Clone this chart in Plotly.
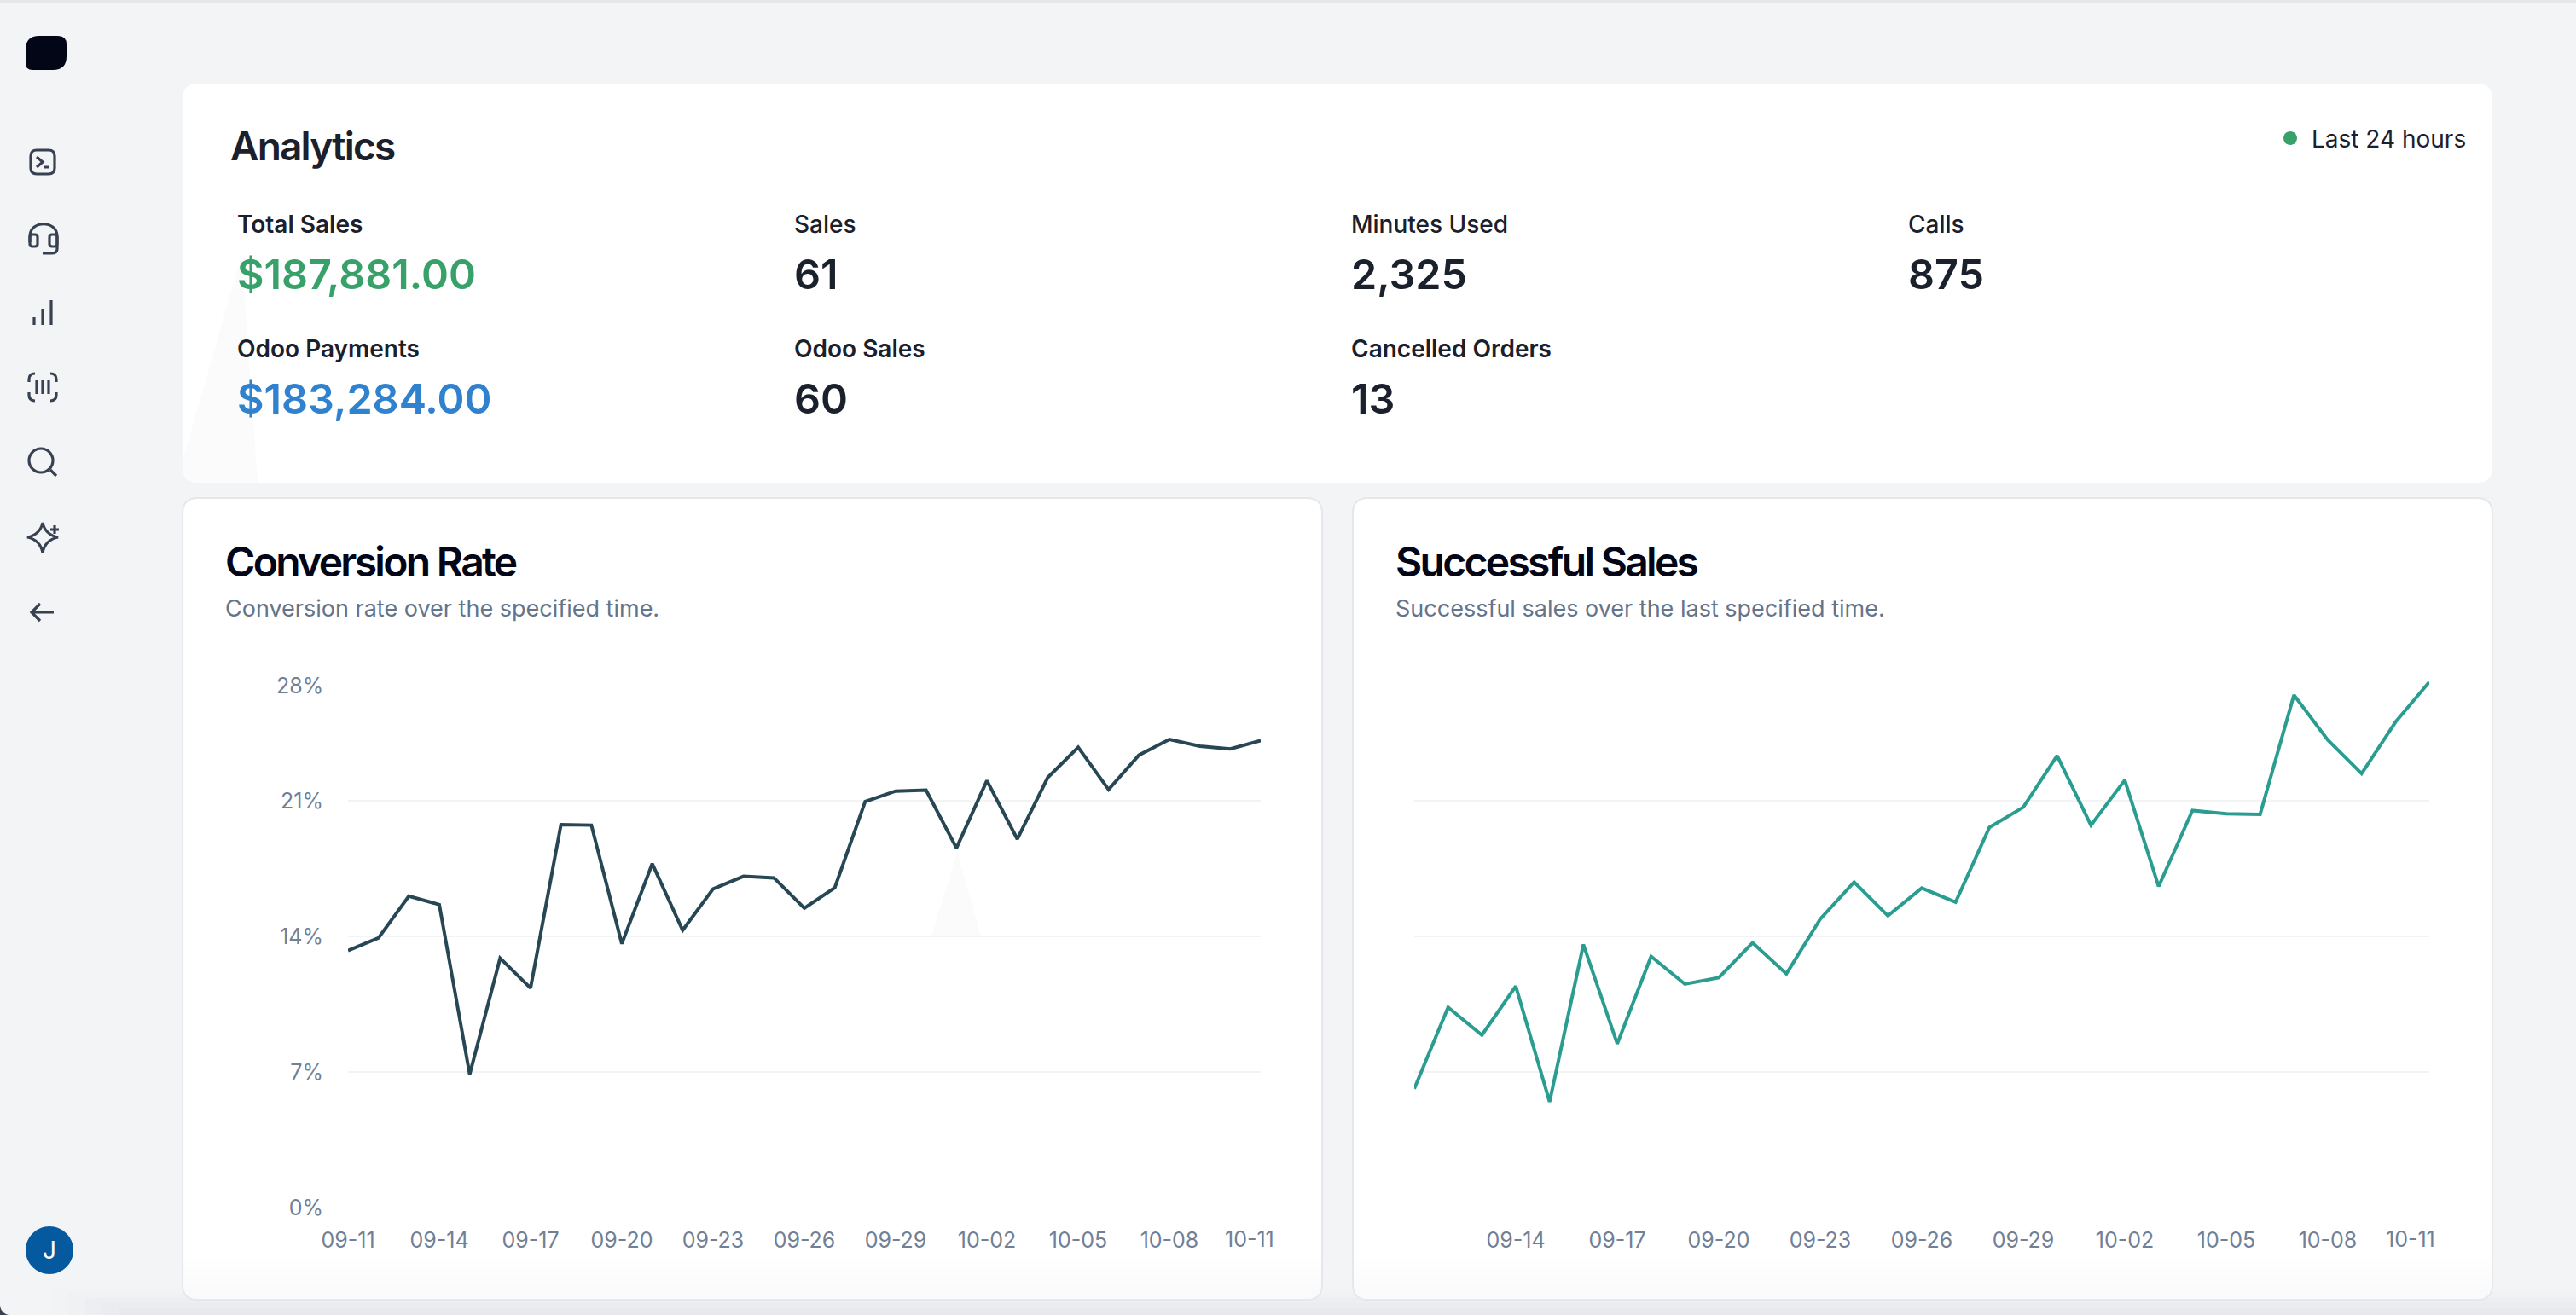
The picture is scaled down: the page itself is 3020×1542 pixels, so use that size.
import plotly.graph_objects as go

W, H = 3020, 1542

# ---- data ----
dates = ["09-11","09-12","09-13","09-14","09-15","09-16","09-17","09-18","09-19","09-20",
         "09-21","09-22","09-23","09-24","09-25","09-26","09-27","09-28","09-29","09-30",
         "10-01","10-02","10-03","10-04","10-05","10-06","10-07","10-08","10-09","10-10","10-11"]
conversion_rate = [13.27,13.92,16.08,15.64,6.88,12.87,11.33,19.77,19.74,13.62,17.75,14.32,16.45,17.1,17.02,
                   15.46,16.51,20.96,21.5,21.55,18.56,22.04,19.02,22.2,23.76,21.58,23.36,24.17,23.82,23.68,24.11]
successful_sales = [21.9,36.9,31.8,40.8,19.5,48.5,30.2,46.3,41.2,42.4,48.8,43.1,53.2,60.0,53.8,
                    58.9,56.3,70.1,73.8,83.3,70.5,78.8,59.2,73.2,72.6,72.5,94.5,86.2,80.0,89.5,96.9]
left_ticks = ["09-11","09-14","09-17","09-20","09-23","09-26","09-29","10-02","10-05","10-08"]
right_ticks = ["09-14","09-17","09-20","09-23","09-26","09-29","10-02","10-05","10-08"]
pct_labels = ["0%", "7%", "14%", "21%"]
stats = [
    ("Total Sales", "$187,881.00", "#38A169", 278, 263, 321),
    ("Sales", "61", "#1A202C", 931, 263, 321),
    ("Minutes Used", "2,325", "#1A202C", 1584, 263, 321),
    ("Calls", "875", "#1A202C", 2237, 263, 321),
    ("Odoo Payments", "$183,284.00", "#3182CE", 278, 409, 467),
    ("Odoo Sales", "60", "#1A202C", 931, 409, 467),
    ("Cancelled Orders", "13", "#1A202C", 1584, 409, 467),
]

FONT = "Inter"
TICK = "#718096"
GRID = "#F1F3F5"
ICON = "#374151"


def rrect(x0, y0, x1, y1, r):
    return (f"M{x0+r},{y0} L{x1-r},{y0} Q{x1},{y0} {x1},{y0+r} L{x1},{y1-r} Q{x1},{y1} {x1-r},{y1} "
            f"L{x0+r},{y1} Q{x0},{y1} {x0},{y1-r} L{x0},{y0+r} Q{x0},{y0} {x0+r},{y0} Z")


def circle(cx, cy, r):
    k = 0.5523 * r
    return (f"M{cx-r},{cy} C{cx-r},{cy-k} {cx-k},{cy-r} {cx},{cy-r} C{cx+k},{cy-r} {cx+r},{cy-k} {cx+r},{cy} "
            f"C{cx+r},{cy+k} {cx+k},{cy+r} {cx},{cy+r} C{cx-k},{cy+r} {cx-r},{cy+k} {cx-r},{cy} Z")


def pshape(path, fill=None, line=None, width=0, **kw):
    d = dict(type="path", path=path, xref="x", yref="y", layer="below",
             line=dict(color=line or "rgba(0,0,0,0)", width=width))
    if fill:
        d["fillcolor"] = fill
    d.update(kw)
    return d


shapes = []
# window edge and the soft darkening along the foot of the page
shapes.append(pshape(f"M0,0 L{W},0 L{W},3 L0,3 Z", fill="#E5E7EB"))
for i, c in enumerate(["#F2F3F5", "#F0F1F3", "#EDEEF1", "#EAECEF", "#E7E9EC"]):
    shapes.append(pshape(f"M{60+i*20},{1510+i*6} L{W},{1510+i*6} L{W},{H} L{60+i*20},{H} Z", fill=c))
shapes.append(pshape(f"M0,{H-10} Q2,{H-2} 10,{H} L0,{H} Z", fill="#374151"))

# cards
shapes.append(pshape(rrect(214, 98, 2922, 566, 18), fill="#FFFFFF"))
for x0, x1 in ((214, 1550), (1586, 2922)):
    shapes.append(pshape(rrect(x0, 584, x1, 1524, 18), fill="#FFFFFF", line="#E5E7EB", width=2))
    # soft fade at the card foot
    for i, c in enumerate(["#FEFEFE", "#FDFDFE", "#FCFCFD", "#FBFBFC", "#F9FAFB"]):
        y0 = 1476 + i * 9
        y1 = 1523 if i == 4 else y0 + 9
        if i == 4:
            shapes.append(pshape(f"M{x0+1},{y0} L{x1-1},{y0} L{x1-1},{y1-17} Q{x1-1},{y1} {x1-18},{y1} L{x0+18},{y1} Q{x0+1},{y1} {x0+1},{y1-17} Z", fill=c))
        else:
            shapes.append(pshape(f"M{x0+1},{y0} L{x1-1},{y0} L{x1-1},{y1} L{x0+1},{y1} Z", fill=c))
# faint wedges
shapes.append(pshape("M214,540 L283,300 L302,566 L232,566 Q214,566 214,548 Z", fill="#FBFBFB"))
shapes.append(pshape("M1122,999 L1150,1098 L1092,1098 Z", fill="#FBFBFB"))

# logo
shapes.append(pshape("M46,42 L68,42 Q78,42 78,52 L78,66 Q78,82 62,82 L38,82 Q30,82 30,74 L30,58 Q30,42 46,42 Z", fill="#020617"))
# dot
shapes.append(pshape(circle(2685, 162, 8), fill="#38A169"))
# avatar
shapes.append(pshape(circle(58, 1466, 28), fill="#05599E"))

# sidebar icons
stk = dict(line=ICON, width=3.2)
shapes += [
    pshape(rrect(36, 176, 64, 204, 7), **stk),
    pshape("M43,184 L50,190 L43,196 M51,196 L58,196", **stk),
    pshape("M35,284 L35,277 C35,258 67,258 67,277 L67,292 Q67,297 60,297 L50,297", **stk),
    pshape(rrect(35, 275, 44, 289, 3), **stk),
    pshape(rrect(58, 275, 67, 289, 3), **stk),
    pshape("M40,381 L40,372 M50,381 L50,362 M60,381 L60,352", **stk),
    pshape("M41,438 Q34,438 34,445 L34,448 M59,438 Q66,438 66,445 L66,448 M41,470 Q34,470 34,463 L34,460 M59,470 Q66,470 66,463 L66,460 M43,446 L43,462 M50,446 L50,462 M57,446 L57,462", **stk),
    pshape(circle(48, 540, 14), **stk),
    pshape("M59,551 L66,558", **stk),
    pshape("M50,613 Q53,627 68,630 Q53,633 50,648 Q47,633 32,630 Q47,627 50,613 Z M64,616 L64,626 M59,621 L69,621 M36,641 L36,642", **stk),
    pshape("M63,718 L37,718 M47,708 L37,718 L47,728", **stk),
]

annos = []


def txt(x, y, s, size, color, weight=400, anchor="left"):
    annos.append(dict(xref="x", yref="y", x=x - 2 if anchor == "left" else x, y=y, text=s, showarrow=False,
                      xanchor=anchor, yanchor="middle", align=anchor,
                      font=dict(family=FONT, size=size, color=color, weight=weight)))


txt(270, 171, "Analytics", 46, "#1A202C", 600)
txt(2710, 163, "Last 24 hours", 28, "#1A202C", 400)
for label, value, color, x, y0, y1 in stats:
    txt(x, y0, label, 28, "#1A202C", 600 if label not in ("Sales", "Minutes Used", "Calls") else 500)
    txt(x, y1, value, 48.5, color, 600)
txt(264, 658, "Conversion Rate", 48, "#020617", 600)
txt(264, 713, "Conversion rate over the specified time.", 27, "#64748B")
txt(1636, 658, "Successful Sales", 48, "#020617", 600)
txt(1636, 713, "Successful sales over the last specified time.", 27, "#64748B")
txt(58, 1466, "J", 28, "#FFFFFF", 400, "center")
txt(381, 804, "28%", 25, TICK, 400, "right")
txt(1465, 1453, "10-11", 25, TICK, 400, "center")
txt(2826, 1453, "10-11", 25, TICK, 400, "center")

fig = go.Figure()
fig.add_trace(go.Scatter(x=[0], y=[0], xaxis="x", yaxis="y", mode="markers", marker=dict(opacity=0),
                         hoverinfo="skip", showlegend=False))
fig.add_trace(go.Scatter(x=dates, y=conversion_rate, xaxis="x2", yaxis="y2", mode="lines",
                         line=dict(color="#274754", width=4), showlegend=False))
fig.add_trace(go.Scatter(x=dates, y=successful_sales, xaxis="x3", yaxis="y3", mode="lines",
                         line=dict(color="#2A9D90", width=4), showlegend=False))


def xax(l, r, ticks):
    return dict(domain=[l / W, r / W], range=[0, 30], type="category", categoryorder="array", categoryarray=dates,
                tickmode="array", tickvals=ticks, ticktext=ticks, showgrid=False, zeroline=False, showline=False,
                ticks="outside", ticklen=16, tickcolor="rgba(0,0,0,0)", tickangle=0, automargin=False,
                tickfont=dict(family=FONT, size=25, color=TICK))


def yax(rng, anchor, **kw):
    d = dict(domain=[1 - 1416 / H, 1 - 780 / H], range=rng, anchor=anchor, showgrid=True, gridcolor=GRID,
             gridwidth=2, zeroline=False, showline=False, automargin=False)
    d.update(kw)
    return d


fig.update_layout(
    width=W, height=H, margin=dict(l=0, r=0, t=0, b=0, pad=0), autosize=False,
    paper_bgcolor="#F3F4F6", plot_bgcolor="rgba(0,0,0,0)", showlegend=False,
    xaxis=dict(domain=[0, 1], range=[0, W], visible=False, fixedrange=True, automargin=False),
    yaxis=dict(domain=[0, 1], range=[H, 0], visible=False, fixedrange=True, automargin=False),
    xaxis2=dict(anchor="y2", **xax(408, 1478, left_ticks)),
    yaxis2=yax([0, 28], "x2", tickmode="array", tickvals=[0, 7, 14, 21, 28],
               ticktext=pct_labels + [" "], ticks="outside", ticklen=23, tickcolor="rgba(0,0,0,0)",
               tickfont=dict(family=FONT, size=25, color=TICK)),
    xaxis3=dict(anchor="y3", **xax(1658, 2848, right_ticks)),
    yaxis3=yax([0, 100], "x3", tickmode="array", tickvals=[0, 25, 50, 75, 100], showticklabels=False, ticks=""),
    shapes=shapes, annotations=annos, hovermode="closest",
)

post = """
document.body.style.margin='0';document.body.style.overflow='hidden';
document.querySelectorAll('.annotation-text').forEach(function(t){
  var s=parseFloat(t.style.fontSize)||0;
  if(s===48){t.style.letterSpacing='-2.7px';}
  else if(s===46){t.style.letterSpacing='-1.8px';}
});
"""
fig.write_html("out.html", config=dict(displayModeBar=False), post_script=post)
